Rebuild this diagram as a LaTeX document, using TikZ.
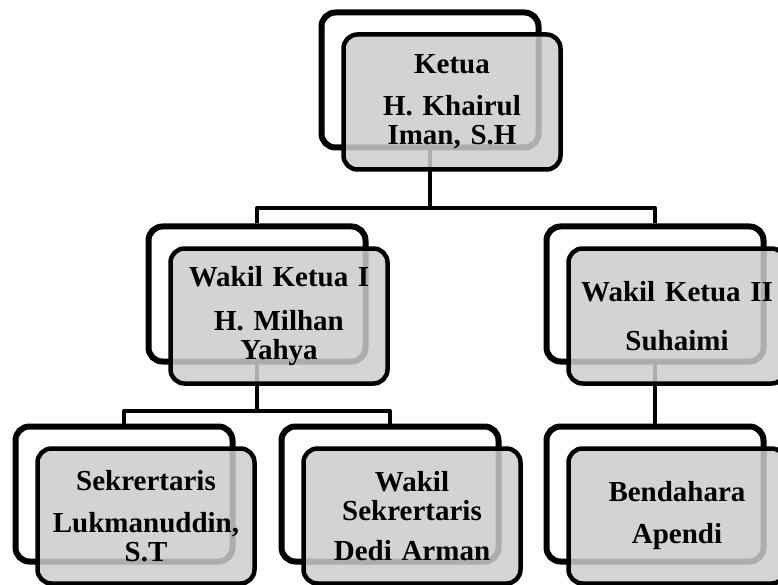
\documentclass[tikz,border=0pt]{standalone}
\usepackage{fontspec}
\setmainfont{Liberation Serif}
\usepackage{tikz}
\usetikzlibrary{shadows}

\begin{document}
\begin{tikzpicture}[x=1pt,y=-1pt]%
        \useasboundingbox (0,0) rectangle (778,585);%%
        \begin{scope}
            \tikzstyle{every node}=[draw,line width=6pt,rounded corners=14pt,fill=white,minimum width=217pt,minimum height=135pt,drop shadow={shadow xshift=2pt,shadow yshift=-2pt,opacity=.25}];%%
            \node (ketuab) at (430,80) {}; %%
            \node (wk1b) at (257,294) {}; %%
            \node (wk2b) at (655,294) {}; %%
            \node (sekb) at (124,494) {}; %%
            \node (wsekb) at (390,494) {}; %%
            \node (bendb) at (655,494) {}; %%
        \end{scope}
        \begin{scope}[line width=4pt,line join=round]
        \draw (ketuab.south) -- ++(0,57.5) -| (wk1b.north); %%
        \draw (ketuab.south) -- ++(0,57.5) -| (wk2b.north); %%
        \draw (wk1b.south) -- ++(0,46.5) -| (sekb.north); %%
        \draw (wk1b.south) -- ++(0,46.5) -| (wsekb.north); %%
        \draw (wk2b.south) -- (bendb.north); %%
        \end{scope}
        \begin{scope}
    \tikzstyle{every node}=[draw,line width=4.5pt,rounded corners=14pt,fill=black!20,fill opacity=.85,text opacity=1,minimum width=217pt,minimum height=135pt,text width=205pt,align=center,inner sep=0pt,font=\fontsize{29}{29}\selectfont\bfseries];%%
    \node (ketua) at ([shift={(22,22)}]ketuab.center) {Ketua\\[13pt]H. Khairul\\Iman, S.H}; %%
    \node (wk1) at ([shift={(22,22)}]wk1b.center) {Wakil Ketua I\\[15pt]H. Milhan\\Yahya}; %%
    \node (wk2) at ([shift={(22,22)}]wk2b.center) {Wakil Ketua II\\[20pt]Suhaimi}; %%
    \node (sek) at ([shift={(22,22)}]sekb.center) {Sekrertaris\\[13pt]Lukmanuddin,\\S.T}; %%
    \node (wsek) at ([shift={(22,22)}]wsekb.center) {Wakil\\Sekrertaris\\[11pt]Dedi Arman}; %%
    \node (bend) at ([shift={(22,22)}]bendb.center) {Bendahara\\[13pt]Apendi}; %%
        \end{scope}
        \end{tikzpicture}
\end{document}
